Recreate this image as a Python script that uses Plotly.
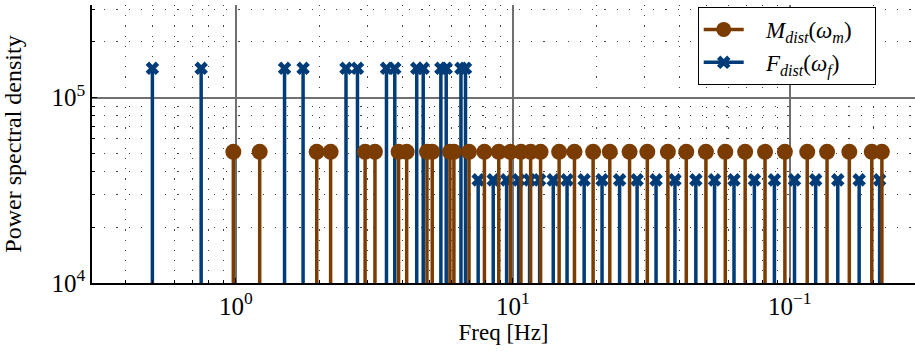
import plotly.graph_objects as go

# ---------------- data ----------------
m_freq = [0.98, 1.22, 1.96, 2.2, 2.93, 3.18, 3.87, 4.14, 4.9, 5.12, 5.93, 6.13,
          6.95, 7.9, 8.9, 9.8, 10.7, 11.6, 12.6, 14.7, 16.7, 19.5, 22.4, 26.4,
          30.6, 36.3, 42.3, 49.8, 58.5, 69.0, 81.4, 96.0, 115.6, 136.3, 164.0,
          197.7, 215.0]
m_psd = [5.1e4] * len(m_freq)

f_freq_high = [0.5, 0.75, 1.5, 1.75, 2.5, 2.75, 3.5, 3.75, 4.5, 4.75, 5.5, 5.75,
               6.5, 6.75]
f_psd_high = [1.44e5] * len(f_freq_high)
f_freq_low = [7.5, 8.5, 9.5, 10.5, 11.5, 12.5, 14.0, 15.7, 18.1, 21.0, 24.3,
              28.1, 32.9, 38.5, 45.8, 53.5, 62.9, 74.5, 88.0, 104.0, 124.0,
              149.0, 178.0, 211.0]
f_psd_low = [3.6e4] * len(f_freq_low)
f_freq = f_freq_high + f_freq_low
f_psd = f_psd_high + f_psd_low

x_tickvals = [1, 10, 100]
x_ticktext = ["10<sup>0</sup>", "10<sup>1</sup>", "10<sup>\u22121</sup>"]
y_tickvals = [1e4, 1e5]
y_ticktext = ["10<sup>4</sup>", "10<sup>5</sup>"]

BROWN = "#7a3c00"
BLUE = "#003c78"
BASE = 1e3
FONT = "Liberation Serif"
PAD_L = "\u00a0\u00a0\u00a0"
PAD_R = "\u00a0\u00a0\u00a0"


def stems(xs, ys):
    sx, sy = [], []
    for x, y in zip(xs, ys):
        sx += [x, x, None]
        sy += [BASE, y, None]
    return sx, sy


fig = go.Figure()

# F (blue) first so M (brown) draws on top
fx, fy = stems(f_freq, f_psd)
fig.add_trace(go.Scatter(x=fx, y=fy, mode="lines", line=dict(color=BLUE, width=3.5),
                         showlegend=False, hoverinfo="skip"))
fig.add_trace(go.Scatter(x=f_freq, y=f_psd, mode="markers",
                         marker=dict(symbol="x", size=12, color=BLUE,
                                     line=dict(width=0)),
                         showlegend=False))
mx, my = stems(m_freq, m_psd)
fig.add_trace(go.Scatter(x=mx, y=my, mode="lines", line=dict(color=BROWN, width=3.5),
                         showlegend=False, hoverinfo="skip"))
fig.add_trace(go.Scatter(x=m_freq, y=m_psd, mode="markers",
                         marker=dict(symbol="circle", size=16, color=BROWN),
                         showlegend=False))

# legend entries
fig.add_trace(go.Scatter(x=[None], y=[None], mode="lines+markers",
                         name=PAD_L + "<i>M</i><sub><i>dist</i></sub>(<i>\u03c9</i><sub><i>m</i></sub>)" + PAD_R,
                         line=dict(color=BROWN, width=3.5),
                         marker=dict(symbol="circle", size=15, color=BROWN),
                         legendrank=1))
fig.add_trace(go.Scatter(x=[None], y=[None], mode="lines+markers",
                         name=PAD_L + "<i>F</i><sub><i>dist</i></sub>(<i>\u03c9</i><sub><i>f</i></sub>)" + PAD_R,
                         line=dict(color=BLUE, width=3.5),
                         marker=dict(symbol="x", size=12, color=BLUE),
                         legendrank=2))

minor_x = [m * 10 ** k for k in (-1, 0, 1, 2) for m in range(2, 10)]
minor_y = [m * 10 ** k for k in (4, 5) for m in range(2, 10)]

fig.add_shape(type="line", xref="x", yref="paper", x0=100, x1=100, y0=0, y1=1,
              line=dict(color="black", width=1), layer="below")

fig.update_layout(
    width=915, height=351,
    margin=dict(l=92, r=0, t=5, b=68),
    paper_bgcolor="white", plot_bgcolor="white",
    font=dict(family=FONT, size=22, color="black"),
    legend=dict(x=0.736, y=0.993, xanchor="left", yanchor="top",
                bgcolor="white", bordercolor="black", borderwidth=1,
                font=dict(family=FONT, size=23), tracegroupgap=0,
                itemwidth=40),
    xaxis=dict(type="log", range=[-0.519, 2.452],
               tickmode="array", tickvals=x_tickvals, ticktext=x_ticktext,
               tickfont=dict(size=25),
               ticks="inside", ticklen=5, tickcolor="black",
               showline=True, linecolor="black", linewidth=1.5,
               showgrid=True, gridcolor="#707070", gridwidth=1.5,
               zeroline=False,
               minor=dict(tickmode="array", tickvals=minor_x, ticks="inside",
                          ticklen=3, tickcolor="black", showgrid=True,
                          gridcolor="#444", griddash="1.2px,9px", gridwidth=1.2),
               title=dict(text="Freq [Hz]", font=dict(size=23), standoff=2)),
    yaxis=dict(type="log", range=[4, 5.5],
               tickmode="array", tickvals=y_tickvals, ticktext=y_ticktext,
               tickfont=dict(size=25),
               ticks="inside", ticklen=5, tickcolor="black",
               showline=True, linecolor="black", linewidth=1.5,
               showgrid=True, gridcolor="#707070", gridwidth=1.5,
               zeroline=False,
               minor=dict(tickmode="array", tickvals=minor_y, ticks="inside",
                          ticklen=3, tickcolor="black", showgrid=True,
                          gridcolor="#444", griddash="1.2px,11px", gridwidth=1.2),
               title=dict(text="Power spectral density", font=dict(size=24),
                          standoff=26)),
)

fig.write_html("out.html")
